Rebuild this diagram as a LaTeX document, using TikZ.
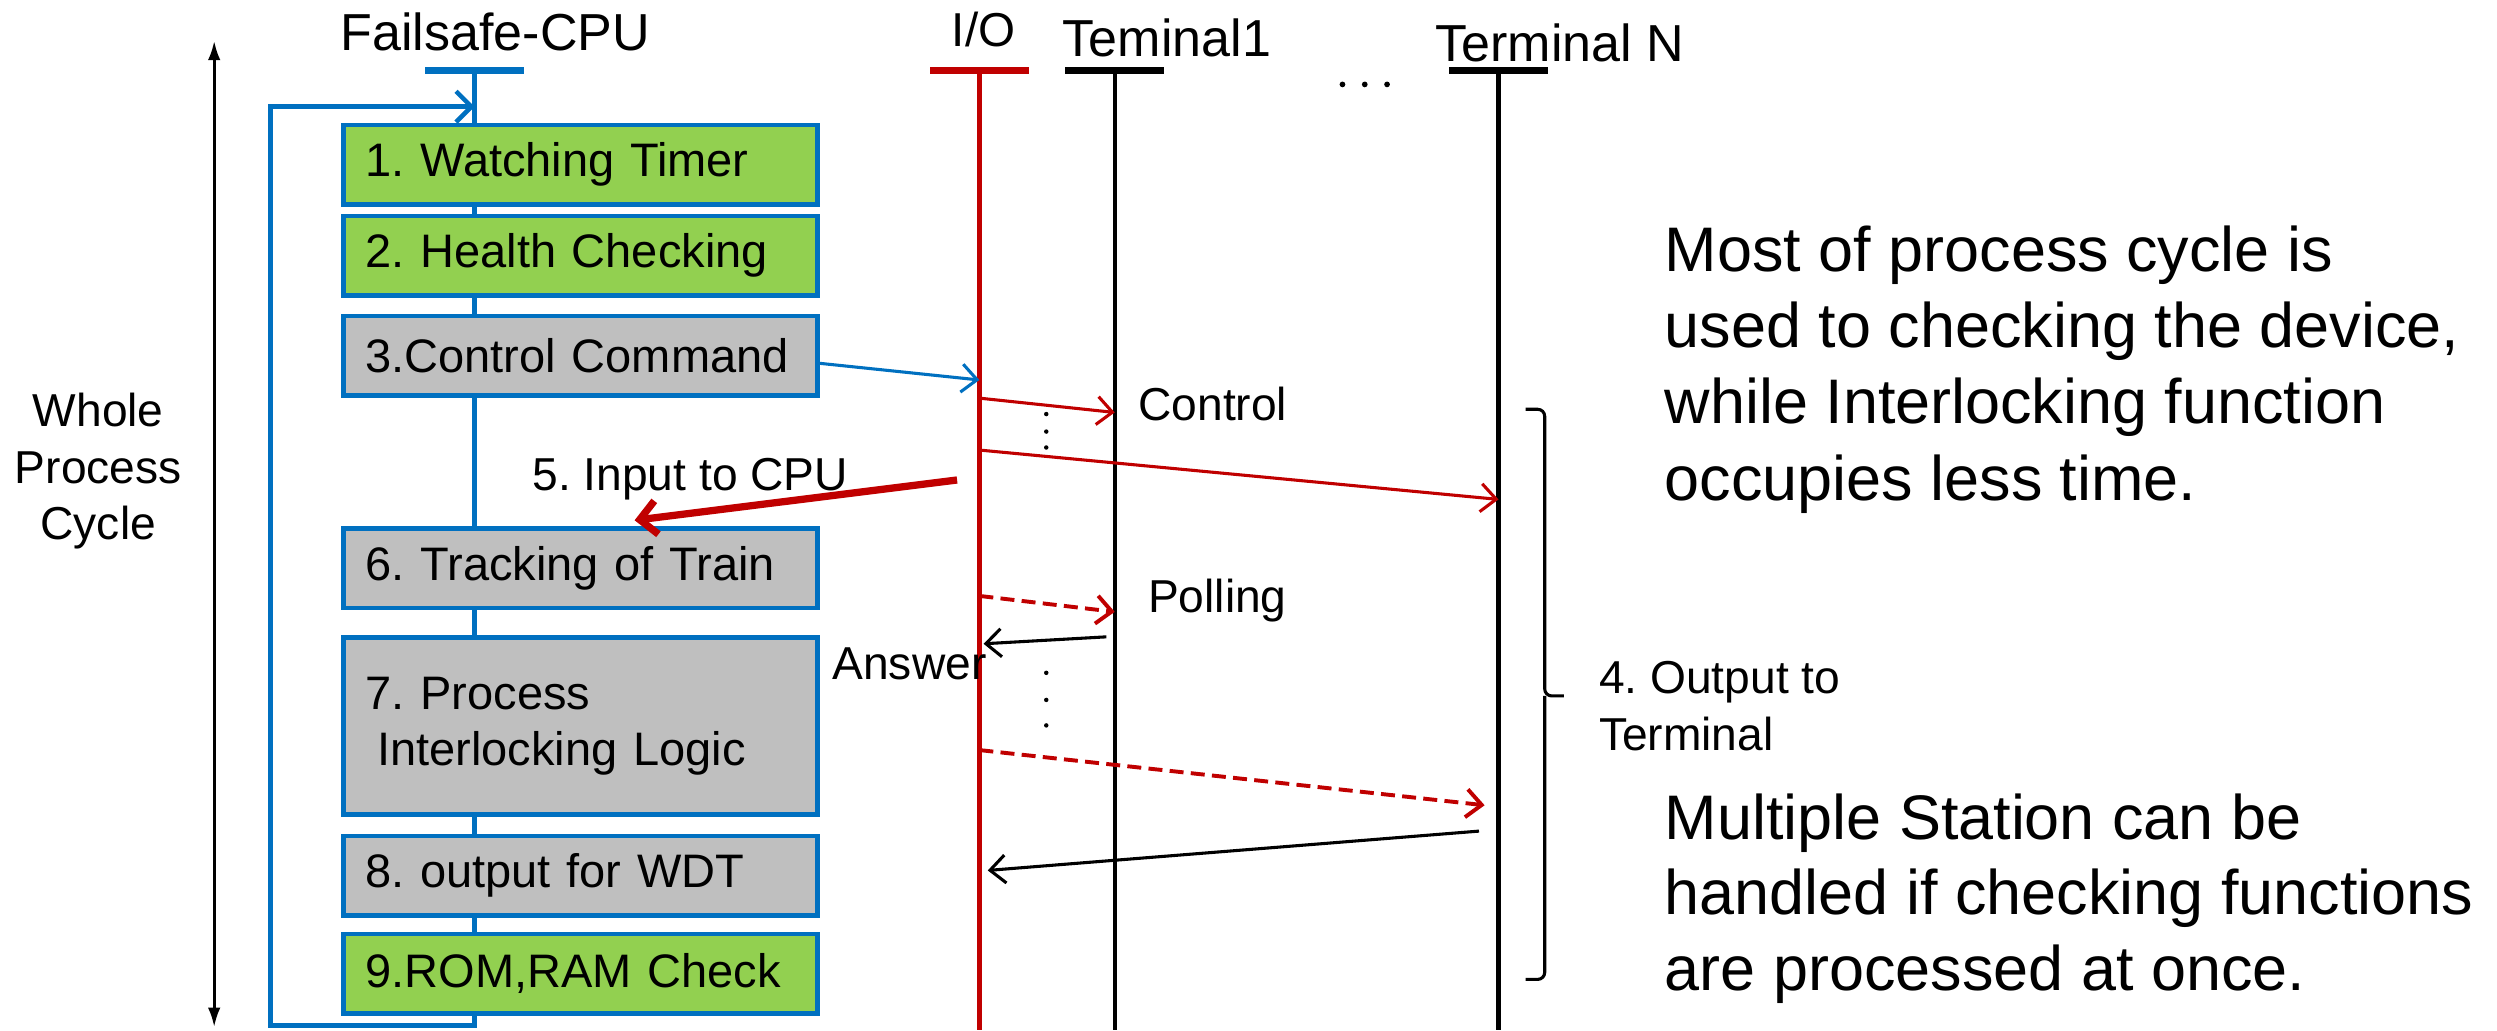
\documentclass[tikz,border=0pt]{standalone}
\usepackage{fontspec}
\setmainfont{Liberation Sans}
\usepackage{tikz}
\usetikzlibrary{calc}
\usetikzlibrary{positioning}
\usetikzlibrary{arrows.meta}
\frenchspacing

\definecolor{cpublue}{RGB}{0,112,192}
\definecolor{iored}{RGB}{192,0,0}
\definecolor{okgreen}{RGB}{146,208,80}
\definecolor{boxgray}{RGB}{191,191,191}

\tikzset{
	procbox/.style={draw=cpublue, line width=1.6pt, outer sep=0pt, minimum width=5.95cm, minimum height=1cm, text width=5.4cm, inner xsep=0.275cm, align=left, font=\fontsize{16.8}{20}\selectfont},
	lifebar/.style={minimum width=1.24cm, minimum height=2.6pt, inner sep=0pt},
	lifeline/.style={line width=1.6pt},
	msg/.style={line width=1.1pt, -{Straight Barb[length=5.5pt,width=10pt]}},
	pollmsg/.style={msg, line width=1.4pt, dash pattern=on 5pt off 2.6pt},
	bracket/.style={line width=1.1pt, rounded corners=2.5pt}
}

\begin{document}
\begin{tikzpicture}[x=0.02cm, y=-0.02cm]
	\tikzstyle{every node}=[font=\fontsize{16.5}{20.2}\selectfont, inner sep=0pt]
	\useasboundingbox (0,0) rectangle (1568,647);
	
	% heads of the lifelines
	\node[lifebar, fill=cpublue] (cpu) at (298,44.4) {};
	\node[lifebar, fill=iored] (io) at (615,44.4) {};
	\node[lifebar, fill=black] (tone) at (700,44.4) {};
	\node[lifebar, fill=black] (tn) at (941,44.4) {};
	\node[anchor=base, font=\fontsize{18.6}{22}\selectfont] (cpuname) at (311,31.8) {Failsafe-CPU};
	\node[anchor=base, font=\fontsize{17}{20}\selectfont] (ioname) at (617.7,29.3) {I/O};
	\node[anchor=base west, font=\fontsize{18.6}{22}\selectfont] (tonename) at (667,35.6) {Teminal1};
	\node[anchor=base west, font=\fontsize{18.6}{22}\selectfont] (tnname) at (901,38.3) {Terminal N};
	\fill (843,53) circle (1.8) (857,53) circle (1.8) (871,53) circle (1.8);
	
	% lifelines and the loop
	\coordinate (loopl) at (170,67);
	\draw[lifeline, cpublue, -{Straight Barb[length=5.5pt,width=11pt]}] (cpu.center) -- (cpu |- 0,644) -| (loopl) -- (cpu |- loopl);
	\draw[lifeline, iored] (io.center) -- (io |- 0,647);
	\draw[lifeline] (tone.center) -- (tone |- 0,647);
	\draw[lifeline] (tn.center) -- (tn |- 0,647);
	
	% whole cycle
	\coordinate (cyctop) at (134.5,25.5);
	\coordinate (cycbot) at (134.5,645);
	\draw[line width=1.1pt, {Latex[length=7pt,width=4.5pt]}-{Latex[length=7pt,width=4.5pt]}] (cyctop) -- (cycbot);
	\node[anchor=base, align=center] (cycle) at (61.7,339) {Whole\\Process\\Cycle};
	
	% steps of the CPU
	\node[procbox, fill=okgreen] (wt) at (364.5,103.5) {1. Watching Timer};
	\node[procbox, fill=okgreen, below=0.14cm of wt] (hc) {2. Health Checking};
	\node[procbox, fill=boxgray, below=0.26cm of hc] (cc) {3.Control Command};
	\node[procbox, fill=boxgray, below=1.67cm of cc] (tt) {6. Tracking of Train};
	\node[procbox, fill=boxgray, minimum height=2.22cm, below=0.37cm of tt] (il) {7. Process\\\hspace*{0.25em}Interlocking Logic};
	\node[procbox, fill=boxgray, below=0.27cm of il] (wd) {8. output for WDT};
	\node[procbox, fill=okgreen, below=0.23cm of wd] (rr) {9.ROM,RAM Check};
	
	% messages
	\draw[msg, cpublue] ($(cc.east)+(0,4.5)$) -- (io |- 0,238.6);
	\draw[msg, iored] (io |- 0,250) -- (tone |- 0,259);
	\node[anchor=base west] (ctrl) at (714.5,264.2) {Control};
	\foreach \d in {260,271,281} \fill (657,\d) circle (1.4);
	\draw[msg, iored] (io |- 0,282.6) -- (tn |- 0,313.6);
	
	\coordinate (inend) at (398.5,326.7);
	\draw[iored, line width=2.6pt, -{Straight Barb[length=6pt,width=12pt]}] ($(io |- 0,301.4)+(-14,0)$) -- (inend);
	\node[anchor=base west] (inlabel) at (334,307.7) {5. Input to CPU};
	
	\draw[pollmsg, iored] (io |- 0,374.2) -- (tone |- 0,384.2);
	\node[anchor=base west] (poll) at (720.6,384.6) {Polling};
	\draw[msg, shorten <=3pt, shorten >=1.5pt] (tone |- 0,399.6) -- (io |- 0,404.4);
	\node[anchor=base west] (answer) at (522.4,426.5) {Answer};
	\foreach \d in {422.5,439.5,455.5} \fill (657,\d) circle (1.4);
	\draw[pollmsg, iored, shorten >=5pt] (io |- 0,471) -- (tn |- 0,506.6);
	\draw[msg, shorten <=7pt, shorten >=3pt] (tn |- 0,520.9) -- (io |- 0,547);
	
	% brace round the output part
	\draw[bracket] (958,257) -| (970,437) -- (982,437);
	\draw[bracket] (970,437) |- (958,615);
	\node[anchor=base west, align=left] (outp) at (1003.8,471) {4. Output to\\Terminal};
	
	% notes
	\node[anchor=base west, align=left, font=\fontsize{22.5}{27.2}\selectfont] (note1) at (1045,314) {Most of process cycle is\\used to checking the device,\\while Interlocking function\\occupies less time.};
	\node[anchor=base west, align=left, font=\fontsize{22.5}{26.9}\selectfont] (note2) at (1045,621.7) {Multiple Station can be\\handled if checking functions\\are processed at once.};
	
\end{tikzpicture}
\end{document}
